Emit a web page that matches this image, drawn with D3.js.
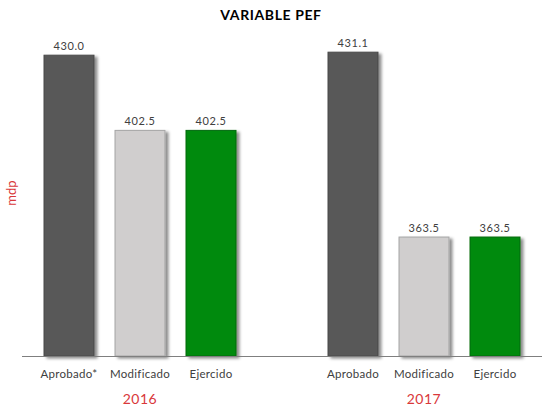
<!DOCTYPE html>
<html><head><meta charset="utf-8">
<script src="https://cdn.jsdelivr.net/npm/d3@7"></script>
<style>body{margin:0;background:#fff}svg{display:block}</style>
</head><body>
<script>
const years = ["2016", "2017"];
const series = ["Aprobado", "Modificado", "Ejercido"];
const catLabels = [["Aprobado*", "Modificado", "Ejercido"], ["Aprobado", "Modificado", "Ejercido"]];
const values2016 = [430.0, 402.5, 402.5];
const values2017 = [431.1, 363.5, 363.5];
const colors = ["#595959", "#d0cece", "#008a0e"];
const strokes = ["#4a4a4a", "#a6a6a6", "#006a08"];
const title = "VARIABLE PEF";
const yTitle = "mdp";

const W = 542, H = 406;
const svg = d3.select("body").append("svg").attr("width", W).attr("height", H);
const defs = svg.append("defs");
const f = defs.append("filter").attr("id", "sh").attr("x", "-20%").attr("y", "-10%").attr("width", "150%").attr("height", "130%");
f.append("feDropShadow").attr("dx", 3).attr("dy", 2).attr("stdDeviation", 1.5).attr("flood-color", "#000").attr("flood-opacity", 0.45);

const baseY = 356;
const y = d3.scaleLinear().domain([320, 450]).range([baseY, 0.5]);
const x0 = d3.scaleBand().domain(years).range([-2, 566]);
const x1 = d3.scaleBand().domain(series).range([35.5, 248.5]).paddingInner(0.296).paddingOuter(0.148);

const data = years.map((yr, i) => ({ year: yr, vals: (i === 0 ? values2016 : values2017), labels: catLabels[i] }));
const font = "Lato, 'Open Sans', sans-serif";

const g = svg.append("g");
data.forEach(d => {
  const gg = g.append("g").attr("transform", `translate(${x0(d.year)},0)`);
  series.forEach((s, j) => {
    const v = d.vals[j];
    gg.append("rect")
      .attr("x", x1(s)).attr("y", y(v))
      .attr("width", x1.bandwidth()).attr("height", baseY - y(v))
      .attr("fill", colors[j]).attr("stroke", strokes[j]).attr("stroke-width", 1)
      .attr("filter", "url(#sh)");
    gg.append("text")
      .attr("x", x1(s) + x1.bandwidth() / 2).attr("y", y(v) - 5)
      .attr("text-anchor", "middle").attr("font-family", font).attr("font-size", 11)
      .attr("letter-spacing", 0.6).attr("fill", "#404040").text(v.toFixed(1));
    gg.append("text")
      .attr("x", x1(s) + x1.bandwidth() / 2).attr("y", 378)
      .attr("text-anchor", "middle").attr("font-family", font).attr("font-size", 11.5)
      .attr("letter-spacing", 0.3).attr("fill", "#404040").text(d.labels[j]);
  });
  gg.append("text")
    .attr("x", x1("Modificado") + x1.bandwidth() / 2).attr("y", 404)
    .attr("text-anchor", "middle").attr("font-family", font).attr("font-size", 14)
    .attr("letter-spacing", 0.5).attr("fill", "#d9383a").text(d.year);
});

svg.append("line").attr("x1", 22).attr("x2", W).attr("y1", baseY + 0.5).attr("y2", baseY + 0.5)
  .attr("stroke", "#7f7f7f").attr("stroke-width", 1);

svg.append("text").attr("x", 271).attr("y", 20).attr("text-anchor", "middle")
  .attr("font-family", font).attr("font-size", 14).attr("font-weight", "bold")
  .attr("letter-spacing", 0.6).attr("fill", "#000").text(title);

svg.append("text").attr("transform", "translate(16,193) rotate(-90)").attr("text-anchor", "middle")
  .attr("font-family", font).attr("font-size", 13).attr("fill", "#d9383a").text(yTitle);
</script>
</body></html>
